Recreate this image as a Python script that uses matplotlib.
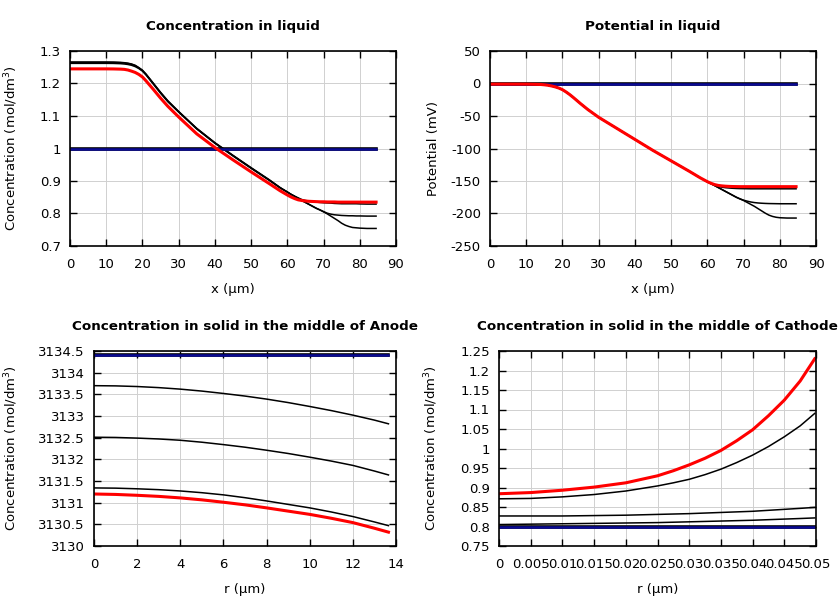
import matplotlib
matplotlib.use("Agg")
import matplotlib.pyplot as plt
from matplotlib.ticker import FuncFormatter, MultipleLocator

# ---- Data ----
x_liq = [0, 5, 10, 12, 14, 15, 16, 17, 18, 19, 20, 21, 22, 23, 25, 27, 30, 35, 40, 45, 50, 55, 58, 60,
         61, 62, 63, 64, 65, 66, 67, 68, 69, 70, 71, 72, 73, 74, 75, 76, 77, 78, 79, 80, 82, 84.5]

c_liq_red = [1.245, 1.245, 1.245, 1.2448, 1.2442, 1.2435, 1.2415, 1.238, 1.234, 1.228, 1.220, 1.208, 1.195,
             1.182, 1.155, 1.130, 1.097, 1.045, 1.003, 0.965, 0.928, 0.892, 0.870, 0.857,
             0.851, 0.846, 0.842, 0.840, 0.8385, 0.8375, 0.837, 0.8365, 0.836, 0.836, 0.8355, 0.8355,
             0.8355, 0.835, 0.835, 0.835, 0.835, 0.835, 0.835, 0.835, 0.835, 0.835]
c_liq_b1 = [1.262, 1.262, 1.262, 1.2618, 1.261, 1.260, 1.2585, 1.256, 1.252, 1.246, 1.238, 1.226, 1.212,
            1.198, 1.170, 1.144, 1.112, 1.060, 1.016, 0.977, 0.939, 0.902, 0.879, 0.866,
            0.859, 0.853, 0.848, 0.843, 0.840, 0.838, 0.836, 0.835, 0.834, 0.833, 0.8325, 0.832,
            0.831, 0.8305, 0.830, 0.830, 0.830, 0.830, 0.830, 0.8295, 0.829, 0.829]
c_liq_b2 = [1.265, 1.265, 1.265, 1.2648, 1.264, 1.263, 1.2615, 1.259, 1.255, 1.248, 1.240, 1.228, 1.214,
            1.200, 1.172, 1.146, 1.113, 1.061, 1.017, 0.978, 0.940, 0.903, 0.879, 0.866,
            0.859, 0.853, 0.847, 0.840, 0.834, 0.828, 0.822, 0.816, 0.811, 0.806, 0.801, 0.798,
            0.796, 0.795, 0.794, 0.7935, 0.793, 0.793, 0.7925, 0.7925, 0.792, 0.792]
c_liq_b3 = [1.266, 1.266, 1.266, 1.2658, 1.265, 1.264, 1.2625, 1.260, 1.256, 1.249, 1.241, 1.229, 1.215,
            1.201, 1.173, 1.147, 1.114, 1.062, 1.018, 0.979, 0.941, 0.904, 0.880, 0.866,
            0.859, 0.853, 0.846, 0.840, 0.834, 0.828, 0.822, 0.816, 0.811, 0.805, 0.799, 0.792,
            0.785, 0.778, 0.770, 0.764, 0.760, 0.757, 0.756, 0.755, 0.754, 0.754]
c_liq_blue = [1.0] * len(x_liq)

p_liq_red = [-1, -1, -1, -1.2, -1.5, -2, -2.7, -3.8, -5.2, -7, -9.5, -13, -17, -21.5, -31, -40, -52, -69,
             -86, -103, -119, -135, -145, -151,
             -153.5, -155.5, -156.8, -157.5, -158, -158.3, -158.5, -158.6, -158.7, -158.7, -158.7, -158.7,
             -158.7, -158.7, -158.7, -158.7, -158.7, -158.7, -158.7, -158.7, -158.7, -158.7]
p_liq_b1 = [-1, -1, -1, -1.2, -1.5, -2, -2.7, -3.8, -5.2, -7, -9.5, -13, -17, -21.5, -31, -40, -52, -69,
            -86, -103, -119, -135, -145, -151,
            -154, -156.5, -158.3, -159.5, -160.3, -160.8, -161.2, -161.5, -161.7, -161.8, -161.9, -162,
            -162, -162, -162, -162, -162, -162, -162, -162, -162, -162]
p_liq_b2 = [-1, -1, -1, -1.2, -1.5, -2, -2.7, -3.8, -5.2, -7, -9.5, -13, -17, -21.5, -31, -40, -52, -69,
            -86, -103, -119, -135, -145, -151,
            -154, -157, -160, -163, -166, -169, -172, -175, -177.5, -179.5, -181, -182.3, -183.2, -183.8,
            -184.2, -184.5, -184.7, -184.8, -184.9, -185, -185, -185]
p_liq_b3 = [-1, -1, -1, -1.2, -1.5, -2, -2.7, -3.8, -5.2, -7, -9.5, -13, -17, -21.5, -31, -40, -52, -69,
            -86, -103, -119, -135, -145, -151,
            -154, -157, -160, -163, -166, -169, -172, -175, -177.5, -180, -183, -186, -189, -192.5, -196,
            -199.5, -202.5, -204.5, -205.8, -206.5, -207, -207]
p_liq_blue = [0.0] * len(x_liq)

r_an = [0, 1, 2, 3, 4, 5, 6, 7, 8, 9, 10, 11, 12, 13, 13.65]
c_an_blue = [3134.4] * len(r_an)
c_an_b1 = [3133.70, 3133.695, 3133.68, 3133.655, 3133.62, 3133.575, 3133.52, 3133.46, 3133.39, 3133.31,
           3133.22, 3133.125, 3133.02, 3132.905, 3132.82]
c_an_b2 = [3132.51, 3132.505, 3132.49, 3132.47, 3132.44, 3132.395, 3132.34, 3132.28, 3132.21, 3132.135,
           3132.05, 3131.96, 3131.86, 3131.73, 3131.64]
c_an_b3 = [3131.34, 3131.335, 3131.32, 3131.30, 3131.27, 3131.23, 3131.18, 3131.115, 3131.04, 3130.96,
           3130.88, 3130.785, 3130.68, 3130.555, 3130.47]
c_an_red = [3131.20, 3131.19, 3131.17, 3131.145, 3131.11, 3131.065, 3131.01, 3130.95, 3130.88, 3130.805,
            3130.73, 3130.64, 3130.54, 3130.41, 3130.32]

r_ca = [0, 0.005, 0.01, 0.015, 0.02, 0.025, 0.0275, 0.03, 0.0325, 0.035, 0.0375, 0.04, 0.0425, 0.045,
        0.0475, 0.0498]
c_ca_blue = [0.799] * len(r_ca)
c_ca_b3 = [0.805, 0.806, 0.807, 0.808, 0.809, 0.810, 0.811, 0.812, 0.813, 0.814, 0.815, 0.816, 0.8175,
           0.819, 0.8205, 0.822]
c_ca_b2 = [0.827, 0.827, 0.827, 0.828, 0.829, 0.831, 0.832, 0.833, 0.8345, 0.836, 0.8375, 0.839, 0.8415,
           0.844, 0.8465, 0.849]
c_ca_b1 = [0.871, 0.872, 0.876, 0.882, 0.891, 0.904, 0.912, 0.921, 0.933, 0.947, 0.964, 0.983, 1.005,
           1.030, 1.058, 1.090]
c_ca_red = [0.884, 0.887, 0.893, 0.901, 0.912, 0.930, 0.943, 0.958, 0.975, 0.995, 1.020, 1.048, 1.084,
            1.124, 1.173, 1.230]

# ---- Plot ----
plt.rcParams['font.family'] = ['DejaVu Sans']
plt.rcParams['font.size'] = 9.5

fig = plt.figure(figsize=(8.4, 6), dpi=100)
W, H = 840, 600

def mk_ax(l, t, r, b):
    return fig.add_axes([l / W, 1 - b / H, (r - l) / W, (b - t) / H])

ax1 = mk_ax(70, 51, 396, 246)
ax2 = mk_ax(490, 51, 816, 246)
ax3 = mk_ax(94, 351, 396, 546)
ax4 = mk_ax(499, 351, 816, 546)

fmt = FuncFormatter(lambda v, p: '%g' % round(v, 6))

def style(ax, title, xlabel, ylabel, ylab_x):
    ax.set_title(title, fontweight='bold', fontsize=9.7, pad=15)
    ax.set_xlabel(xlabel)
    ax.set_ylabel(ylabel)
    ax.xaxis.set_label_coords(0.5, -37 / 195)
    ax.yaxis.set_label_coords(ylab_x, 0.5)
    ax.grid(True, color='#d0d0d0', linewidth=0.7)
    ax.set_axisbelow(True)
    ax.tick_params(direction='in', top=True, right=True, length=5, width=1)
    ax.tick_params(axis='x', pad=8.5)
    ax.tick_params(axis='y', pad=6.5)
    ax.xaxis.set_major_formatter(fmt)
    ax.yaxis.set_major_formatter(fmt)
    for s in ax.spines.values():
        s.set_linewidth(1.2)

BLUE = '#0a0a96'

def draw(ax, x, blacks, red, blue):
    for b in blacks:
        ax.plot(x, b, color='black', lw=1.1)
    ax.plot(x, blue, color='black', lw=2.6)
    ax.plot(x, blue, color=BLUE, lw=1.8)
    ax.plot(x, red, color='red', lw=2.2)

draw(ax1, x_liq, [c_liq_b1, c_liq_b2, c_liq_b3], c_liq_red, c_liq_blue)
ax1.set_xlim(0, 90); ax1.set_ylim(0.7, 1.3)
ax1.xaxis.set_major_locator(MultipleLocator(10))
ax1.yaxis.set_major_locator(MultipleLocator(0.1))
style(ax1, 'Concentration in liquid', 'x (µm)', 'Concentration (mol/dm$^3$)', -50 / 326)

draw(ax2, x_liq, [p_liq_b1, p_liq_b2, p_liq_b3], p_liq_red, p_liq_blue)
ax2.set_xlim(0, 90); ax2.set_ylim(-250, 50)
ax2.xaxis.set_major_locator(MultipleLocator(10))
ax2.yaxis.set_major_locator(MultipleLocator(50))
style(ax2, 'Potential in liquid', 'x (µm)', 'Potential (mV)', -50 / 326)

draw(ax3, r_an, [c_an_b1, c_an_b2, c_an_b3], c_an_red, c_an_blue)
ax3.set_xlim(0, 14); ax3.set_ylim(3130, 3134.5)
ax3.xaxis.set_major_locator(MultipleLocator(2))
ax3.yaxis.set_major_locator(MultipleLocator(0.5))
style(ax3, 'Concentration in solid in the middle of Anode', 'r (µm)', 'Concentration (mol/dm$^3$)', -74 / 302)

draw(ax4, r_ca, [c_ca_b1, c_ca_b2, c_ca_b3], c_ca_red, c_ca_blue)
ax4.set_xlim(0, 0.05); ax4.set_ylim(0.75, 1.25)
ax4.xaxis.set_major_locator(MultipleLocator(0.005))
ax4.yaxis.set_major_locator(MultipleLocator(0.05))
style(ax4, 'Concentration in solid in the middle of Cathode', 'r (µm)', 'Concentration (mol/dm$^3$)', -59 / 317)

fig.savefig('out.png', dpi=100)
